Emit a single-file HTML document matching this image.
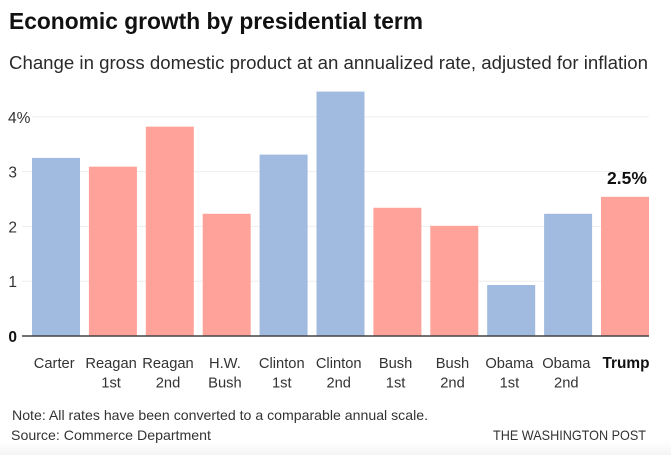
<!DOCTYPE html>
<html lang="en">
<head>
<meta charset="utf-8">
<title>Economic growth by presidential term</title>
<style>
html,body{margin:0;padding:0;background:#fff;width:671px;height:455px;overflow:hidden}
svg{display:block;font-family:"Liberation Sans",sans-serif}
</style>
</head>
<body>
<svg id="chart" width="671" height="455" viewBox="0 0 671 455" xmlns="http://www.w3.org/2000/svg">
  <defs>
    <linearGradient id="fade" x1="0" y1="0" x2="0" y2="1">
      <stop offset="0" stop-color="#ffffff"/>
      <stop offset="1" stop-color="#f4f4f4"/>
    </linearGradient>
  </defs>
  <rect x="0" y="442" width="671" height="13" fill="url(#fade)"/>
  <text x="9" y="29" font-size="23.3" font-weight="700" fill="#111" textLength="414" lengthAdjust="spacingAndGlyphs">Economic growth by presidential term</text>
  <text x="9" y="69" font-size="18" fill="#2a2a2a" textLength="639" lengthAdjust="spacingAndGlyphs">Change in gross domestic product at an annualized rate, adjusted for inflation</text>
  <g id="grid"></g>
  <g id="bars"></g>
  <g id="labels"></g>
  <line x1="22" y1="336" x2="649" y2="336" stroke="#444" stroke-width="1.5"/>
  <text x="12" y="420" font-size="13.6" fill="#333" textLength="416" lengthAdjust="spacingAndGlyphs">Note: All rates have been converted to a comparable annual scale.</text>
  <text x="11" y="440" font-size="13.6" fill="#333" textLength="200" lengthAdjust="spacingAndGlyphs">Source: Commerce Department</text>
  <text x="493" y="440" font-size="13.6" fill="#333" textLength="153" lengthAdjust="spacingAndGlyphs">THE WASHINGTON POST</text>
</svg>
<script>
const categoriesLine1 = ['Carter','Reagan','Reagan','H.W.','Clinton','Clinton','Bush','Bush','Obama','Obama','Trump'];
const categoriesLine2 = ['','1st','2nd','Bush','1st','2nd','1st','2nd','1st','2nd',''];
const growthValues = [3.25,3.09,3.82,2.23,3.31,4.46,2.34,2.01,0.93,2.23,2.54];
const parties = ['dem','rep','rep','rep','dem','dem','rep','rep','dem','dem','rep'];
const yTicks = [0,1,2,3,4];
const yTickLabels = ['0','1','2','3','4%'];
const highlightLabel = '2.5%';

const NS = 'http://www.w3.org/2000/svg';
const partyColor = {dem:'#a0bbdf', rep:'#ffa299'};
function yScale(v){ return 336 - v * 54.8; }
function xScale(i){ return 32 + i * 56.9; }
const barWidth = 48;

function mk(tag, attrs, parent, text){
  const el = document.createElementNS(NS, tag);
  for (const k in attrs) el.setAttribute(k, attrs[k]);
  if (text !== undefined) el.textContent = text;
  parent.appendChild(el);
  return el;
}
const grid = document.getElementById('grid');
const bars = document.getElementById('bars');
const labels = document.getElementById('labels');

yTicks.forEach(function(t, i){
  const y = yScale(t);
  if (t > 0) {
    const line = mk('line', {x1: t === 4 ? 32 : 22, x2: 649, y1: y, y2: y, stroke: '#eeeeee', 'stroke-width': 1}, grid);
    
    
  }
  const tick = mk('text', {
    x: t === 4 ? 8 : 12.7, y: y + 6, 'text-anchor': t === 4 ? 'start' : 'middle',
    'font-size': 15.5, 'font-weight': t === 0 ? 700 : 400, fill: t === 0 ? '#111' : '#333'
  }, grid, yTickLabels[i]);
  
  
});

growthValues.forEach(function(v, i){
  const x = xScale(i);
  const top = yScale(v);
  const bar = mk('rect', {x: x, y: top, width: barWidth, height: yScale(0) - top, fill: partyColor[parties[i]]}, bars);
  
  

  const isLast = i === growthValues.length - 1;
  const cx = x + barWidth / 2;
  const labelX = isLast ? cx + 1 : cx - 1.8;
  const l1 = mk('text', {
    x: labelX, y: 368, 'text-anchor': 'middle', 'font-size': isLast ? 15.4 : 14.7,
    'font-weight': isLast ? 700 : 400, fill: isLast ? '#111' : '#333'
  }, labels, categoriesLine1[i]);
  
  
  if (categoriesLine2[i]) {
    const l2 = mk('text', {x: labelX, y: 387.5, 'text-anchor': 'middle', 'font-size': 14.7, fill: '#333'}, labels, categoriesLine2[i]);
    
    
  }
  if (isLast) {
    const val = mk('text', {x: cx + 2, y: top - 13, 'text-anchor': 'middle', 'font-size': 17.5, 'font-weight': 700, fill: '#111'}, labels, highlightLabel);
    
    
  }
});
</script>
</body>
</html>
